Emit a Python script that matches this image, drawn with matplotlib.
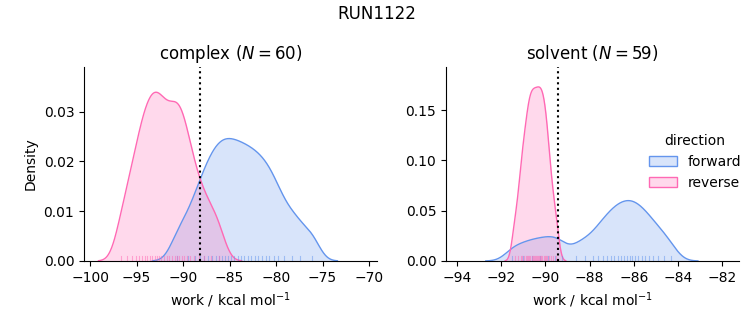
import numpy as np
import matplotlib
matplotlib.use('Agg')
import matplotlib.pyplot as plt

# work values (kcal/mol), estimated from the rug marks and density shapes
complex_forward = [-90.60, -89.50, -88.75, -88.18, -87.70, -87.28, -86.89, -86.51, -86.17, -85.83,
                   -85.49, -85.15, -84.81, -84.47, -84.12, -83.77, -83.41, -83.05, -82.69, -82.31,
                   -81.93, -81.54, -81.13, -80.71, -80.25, -79.75, -79.10, -78.30, -77.40, -76.10]
complex_reverse = [-96.70, -96.00, -95.45, -95.07, -94.70, -94.38, -94.11, -93.84, -93.57, -93.32,
                   -93.07, -92.83, -92.58, -92.33, -92.07, -91.78, -91.48, -91.18, -90.90, -90.65,
                   -90.40, -90.15, -89.88, -89.58, -89.20, -88.80, -88.30, -87.70, -87.00, -86.10]
solvent_forward = [-91.50, -91.00, -90.60, -90.23, -89.89, -89.55, -89.25, -88.60, -88.22, -87.85,
                   -87.60, -87.39, -87.20, -87.04, -86.89, -86.73, -86.60, -86.46, -86.33, -86.19,
                   -86.06, -85.93, -85.80, -85.64, -85.48, -85.33, -85.13, -84.90, -84.65, -84.30]
solvent_reverse = [-91.40, -91.22, -91.11, -91.04, -90.97, -90.89, -90.84, -90.78, -90.73, -90.68,
                   -90.63, -90.58, -90.53, -90.48, -90.43, -90.38, -90.33, -90.28, -90.23, -90.18,
                   -90.14, -90.08, -90.03, -89.98, -89.92, -89.86, -89.77, -89.66, -89.50]

# dotted reference lines
complex_line = -88.2
solvent_line = -89.43

colors = {'forward': 'cornflowerblue', 'reverse': 'hotpink'}
# kernel widths (forward, reverse) and density area per direction
complex_bw = [0.9, 0.8]
solvent_bw = [0.4, 0.14]
complex_area = [0.255, 0.265]
solvent_area = [0.25, 0.25]


def kde(samples, bw, area):
    s = np.asarray(samples)
    x = np.linspace(s.min() - 3 * bw, s.max() + 3 * bw, 400)
    y = np.exp(-0.5 * ((x[:, None] - s[None, :]) / bw) ** 2).sum(axis=1)
    y = y / (len(s) * bw * np.sqrt(2 * np.pi)) * area
    return x, y


def panel(ax, fwd, rev, bws, areas, line, title):
    for name, data, bw, area in [('forward', fwd, bws[0], areas[0]),
                                 ('reverse', rev, bws[1], areas[1])]:
        x, y = kde(data, bw, area)
        ax.fill_between(x, y, color=colors[name], alpha=0.25, lw=0, label=name)
        ax.plot(x, y, color=colors[name], lw=1)
    for name, data in [('forward', fwd), ('reverse', rev)]:
        for v in data:
            ax.axvline(v, ymin=0, ymax=0.025, color=colors[name], alpha=0.5, lw=0.8)
    ax.axvline(line, color='black', ls=':', lw=1.5)
    ax.set_title(title, fontsize=12)
    ax.set_xlabel('work / kcal mol$^{-1}$')
    ax.spines['top'].set_visible(False)
    ax.spines['right'].set_visible(False)


fig, (ax1, ax2) = plt.subplots(1, 2, figsize=(7.53, 3.25), dpi=100)
fig.subplots_adjust(left=0.1116, right=0.9814, top=0.794, bottom=0.197, wspace=0.2355)
fig.suptitle('RUN1122', fontsize=12, y=0.985)

panel(ax1, complex_forward, complex_reverse, complex_bw, complex_area, complex_line,
      'complex ($N = 60$)')
panel(ax2, solvent_forward, solvent_reverse, solvent_bw, solvent_area, solvent_line,
      'solvent ($N = 59$)')

ax1.set_xlim(-100.65, -69.14)
ax1.set_ylim(0, 0.039)
ax1.set_xticks(np.arange(-100, -69, 5))
ax1.set_yticks([0, 0.01, 0.02, 0.03])
ax1.set_yticklabels(['0.00', '0.01', '0.02', '0.03'])
ax1.set_ylabel('Density')

ax2.set_xlim(-94.5, -81.24)
ax2.set_ylim(0, 0.193)
ax2.set_xticks(np.arange(-94, -81, 2))
ax2.set_yticks([0, 0.05, 0.10, 0.15])
ax2.set_yticklabels(['0.00', '0.05', '0.10', '0.15'])

handles = [plt.Rectangle((0, 0), 1, 1, facecolor=matplotlib.colors.to_rgba(colors[k], 0.25),
                         edgecolor=colors[k]) for k in ['forward', 'reverse']]
ax2.legend(handles, ['forward', 'reverse'], title='direction', frameon=False,
           loc='center left', bbox_to_anchor=(0.65, 0.51))

fig.savefig('out.png')
